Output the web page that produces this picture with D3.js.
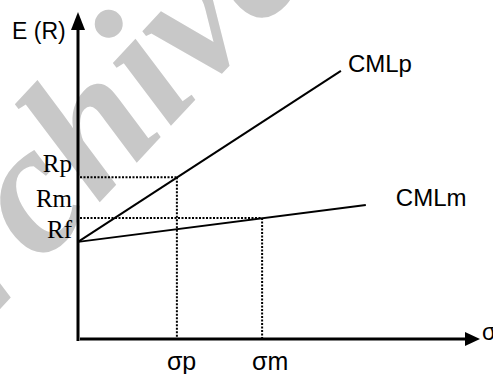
<!DOCTYPE html>
<html lang="en">
<head>
    <meta charset="UTF-8">
    <script type="text/javascript" src="https://d3js.org/d3.v7.min.js"></script>
    <title>CML</title>
    <style>
        body { margin: 0; background: #fff; }
        .sans { font-family: "Liberation Sans", Arial, sans-serif; }
        .serif { font-family: "Liberation Serif", "Times New Roman", serif; }
    </style>
</head>
<body>
<div id="Area"></div>
<script>
    // data (arbitrary units, 0..10 on both axes)
    const seriesNames = ["CMLp", "CMLm"];
    const riskFreeRate = 2.97;
    const cmlEndSigma = [6.54, 7.16];
    const cmlEndReturn = [8.2, 4.1];
    const portfolioSigma = [2.46, 4.58];
    const portfolioReturn = [4.95, 3.7];
    const sigmaLabels = ["σp", "σm"];
    const returnLabels = ["Rp", "Rm", "Rf"];

    const width = 493, height = 374;

    const svg = d3.select("#Area")
      .append("svg")
        .attr("width", width)
        .attr("height", height);

    // watermark
    svg.append("text")
        .attr("class", "serif")
        .attr("transform", "translate(-93,409) rotate(-47)")
        .style("font-size", "186px")
        .style("font-weight", "bold")
        .style("font-style", "italic")
        .style("fill", "#c8c8c8")
        .text("Archive");

    const x = d3.scaleLinear().domain([0, 10]).range([78, 480]);
    const y = d3.scaleLinear().domain([0, 10]).range([339, 12]);

    // axes with arrows
    svg.append("line")
        .attr("x1", x(0)).attr("x2", x(0))
        .attr("y1", y(0) + 2).attr("y2", y(10) + 16)
        .attr("stroke", "#000").attr("stroke-width", 3);
    svg.append("path")
        .attr("d", `M${x(0)},${y(10)} L${x(0) - 7},${y(10) + 18} L${x(0) + 7},${y(10) + 18} Z`)
        .attr("fill", "#000");

    svg.append("line")
        .attr("x1", x(0) + 2).attr("x2", x(10) - 14)
        .attr("y1", y(0)).attr("y2", y(0))
        .attr("stroke", "#000").attr("stroke-width", 3);
    svg.append("path")
        .attr("d", `M${x(10)},${y(0)} L${x(10) - 15},${y(0) - 7} L${x(10) - 15},${y(0) + 7} Z`)
        .attr("fill", "#000");

    // dotted guides
    portfolioSigma.forEach(function(s, i) {
        svg.append("line")
            .attr("x1", x(0) + 2).attr("x2", x(s))
            .attr("y1", y(portfolioReturn[i])).attr("y2", y(portfolioReturn[i]))
            .attr("stroke", "#000").attr("stroke-width", 2)
            .attr("stroke-dasharray", "2,1.5");
        svg.append("line")
            .attr("x1", x(s)).attr("x2", x(s))
            .attr("y1", y(portfolioReturn[i])).attr("y2", y(0) - 1)
            .attr("stroke", "#000").attr("stroke-width", 2)
            .attr("stroke-dasharray", "2,1.5");
    });

    // capital market lines
    svg.selectAll(".cml")
      .data(seriesNames)
      .enter()
      .append("line")
        .attr("class", "cml")
        .attr("x1", x(0))
        .attr("y1", y(riskFreeRate))
        .attr("x2", function(d, i){ return x(cmlEndSigma[i]) })
        .attr("y2", function(d, i){ return y(cmlEndReturn[i]) })
        .attr("stroke", "#000")
        .attr("stroke-width", 2);

    const labelOffsets = [[7, 1], [30, 1]];
    svg.selectAll(".cmlLabel")
      .data(seriesNames)
      .enter()
      .append("text")
        .attr("class", "sans")
        .attr("x", function(d, i){ return x(cmlEndSigma[i]) + labelOffsets[i][0] })
        .attr("y", function(d, i){ return y(cmlEndReturn[i]) + labelOffsets[i][1] })
        .style("font-size", "24px")
        .text(function(d){ return d });

    // return labels on the y axis
    const returnValues = [portfolioReturn[0], portfolioReturn[1], riskFreeRate];
    const returnShift = [-5, -11, -4];
    svg.selectAll(".rLabel")
      .data(returnLabels)
      .enter()
      .append("text")
        .attr("class", "serif")
        .attr("x", 72)
        .attr("y", function(d, i){ return y(returnValues[i]) + returnShift[i] })
        .attr("text-anchor", "end")
        .style("font-size", "25px")
        .text(function(d){ return d });

    // sigma labels under the x axis
    svg.selectAll(".sLabel")
      .data(sigmaLabels)
      .enter()
      .append("text")
        .attr("class", "sans")
        .attr("x", function(d, i){ return x(portfolioSigma[i]) - 10 })
        .attr("y", 370)
        .style("font-size", "25px")
        .text(function(d){ return d });

    // axis titles
    svg.append("text")
        .attr("class", "sans")
        .attr("x", 12).attr("y", 39)
        .style("font-size", "23px")
        .text("E (R)");
    svg.append("text")
        .attr("class", "sans")
        .attr("x", 482).attr("y", 340)
        .style("font-size", "23px")
        .text("σ");
</script>
</body>
</html>
